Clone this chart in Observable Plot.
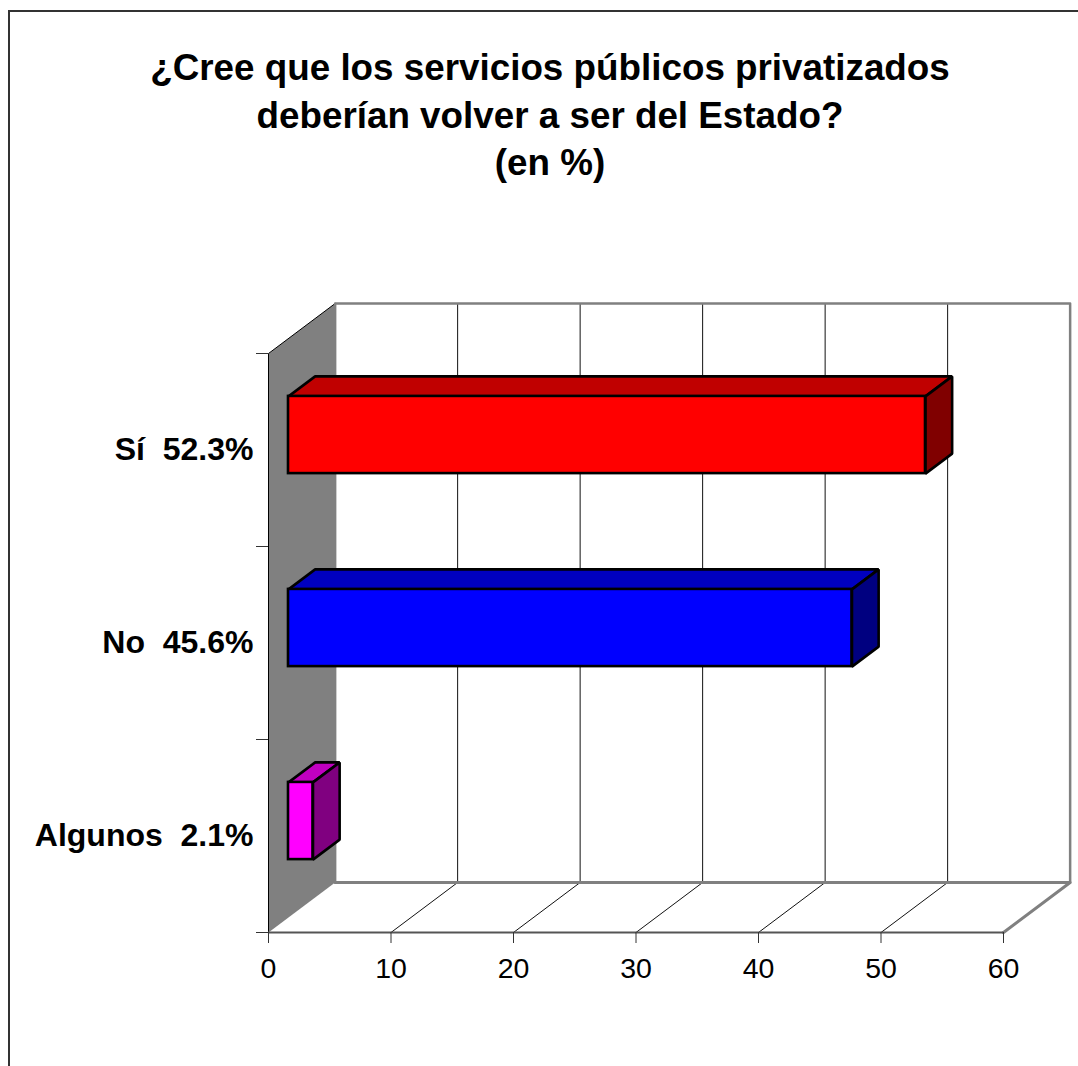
<!DOCTYPE html>
<html lang="es">
<head>
<meta charset="utf-8">
<script src="https://cdn.jsdelivr.net/npm/d3@7"></script>
<script src="https://cdn.jsdelivr.net/npm/@observablehq/plot@0.6"></script>
<style>
  html, body { margin: 0; padding: 0; background: #fff; }
  #page { position: relative; width: 1078px; height: 1066px; overflow: hidden; font-family: "Liberation Sans", Arial, sans-serif; }
  #frame { position: absolute; left: 8px; top: 10px; right: -4px; bottom: -4px; border: 2px solid #333; pointer-events: none; }
  #title { position: absolute; left: 0; top: 44px; width: 1100px; text-align: center; font-size: 36.8px; line-height: 47.5px; font-weight: bold; color: #000; margin: 0; }
  #chart { position: absolute; left: 0; top: 250px; }
  #chart svg { display: block; }
</style>
</head>
<body>
<div id="page">
  <div id="frame"></div>
  <h1 id="title"></h1>
  <div id="chart"></div>
</div>
<script>
const titleLines = ["¿Cree que los servicios públicos privatizados", "deberían volver a ser del Estado?", "(en %)"];
const categories = ["Algunos", "No", "Sí"];
const percentLabels = ["2.1%", "45.6%", "52.3%"];
const barLengths = [2, 46, 52];
const barColors = ["#ff00ff", "#0000ff", "#ff0000"];
const topColors = ["#c000c0", "#0000c0", "#c00000"];
const sideColors = ["#800080", "#000080", "#800000"];
const xTicks = [0, 10, 20, 30, 40, 50, 60];
const yBandEdges = [0, 1, 2, 3];
const yBandCenters = [0.5, 1.5, 2.5];

document.getElementById("title").innerHTML = titleLines.join("<br>");

// Oblique projection, in data units: a depth of 1 is the full depth of the box.
const depthX = 5.44, depthY = 0.259;
const P = (x, y, d) => ({x: x + d * depthX, y: y + d * depthY});
const barFront = 0.3, barBack = 0.7, barHalf = 0.2;

const polygon = (corners, extra) => corners.map(([x, y, d]) => ({...P(x, y, d), ...extra}));

const wallGrey = "#808080";
const sideWall = polygon([[0, 0, 0], [0, 3, 0], [0, 3, 1], [0, 0, 1]], {});
const sideWallEdge = polygon([[0, 0, 0], [0, 3, 0], [0, 3, 1]], {});
const backWall = polygon([[0, 0, 1], [0, 3, 1], [60, 3, 1], [60, 0, 1]], {});
const floorEdge = polygon([[0, 0, 1], [60, 0, 1], [60, 0, 0]], {});
const floorGrid = xTicks.slice(1, -1).flatMap(t => polygon([[t, 0, 0], [t, 0, 1], [t, 3, 1]], {t}));

const bars = categories.map((c, i) => ({
  i, c, len: barLengths[i], mid: yBandCenters[i],
  front: barColors[i], top: topColors[i], side: sideColors[i]
}));
const topFaces = bars.flatMap(b => polygon([
  [0, b.mid + barHalf, barFront], [b.len, b.mid + barHalf, barFront],
  [b.len, b.mid + barHalf, barBack], [0, b.mid + barHalf, barBack]
], {i: b.i, fill: b.top}));
const sideFaces = bars.flatMap(b => polygon([
  [b.len, b.mid - barHalf, barFront], [b.len, b.mid + barHalf, barFront],
  [b.len, b.mid + barHalf, barBack], [b.len, b.mid - barHalf, barBack]
], {i: b.i, fill: b.side}));

const face = (data) => Plot.line(data, {
  x: "x", y: "y", z: "i", fill: "fill", stroke: "#000", strokeWidth: 2.6,
  curve: "linear-closed", strokeLinejoin: "miter"
});

const plot = Plot.plot({
  width: 1078,
  height: 816,
  marginLeft: 268,
  marginRight: 75,
  marginTop: 103,
  marginBottom: 134,
  x: {domain: [0, 60]},
  y: {domain: [0, 3]},
  color: {type: "identity"},
  style: {fontFamily: "'Liberation Sans', Arial, sans-serif", background: "transparent", overflow: "visible"},
  marks: [
    Plot.line(sideWall, {x: "x", y: "y", fill: wallGrey, stroke: "none", curve: "linear-closed"}),
    Plot.line(sideWallEdge, {x: "x", y: "y", stroke: "#000", strokeWidth: 1}),
    Plot.line(floorGrid, {x: "x", y: "y", z: "t", stroke: "#111", strokeWidth: 1}),
    Plot.line(backWall, {x: "x", y: "y", stroke: wallGrey, strokeWidth: 2.5}),
    Plot.line(floorEdge, {x: "x", y: "y", stroke: wallGrey, strokeWidth: 3}),
    Plot.ruleY([0], {stroke: "#555", strokeWidth: 2}),
    Plot.axisX({anchor: "bottom", ticks: xTicks, tickSize: 11, tickPadding: 14, fontSize: 28.5, label: null, stroke: "#333", color: "#000"}),
    Plot.axisY({anchor: "left", ticks: yBandEdges, tickSize: 12, tickFormat: () => "", label: null, stroke: "#333"}),
    Plot.axisY({anchor: "left", ticks: yBandCenters, tickSize: 0, tickPadding: 15, fontSize: 32, fontWeight: "bold", label: null, color: "#000",
      tickFormat: v => `${categories[yBandCenters.indexOf(v)]}  ${percentLabels[yBandCenters.indexOf(v)]}`}),
    face(topFaces),
    face(sideFaces),
    Plot.rect(bars, {
      x1: b => P(0, b.mid, barFront).x, x2: b => P(b.len, b.mid, barFront).x,
      y1: b => P(0, b.mid - barHalf, barFront).y, y2: b => P(0, b.mid + barHalf, barFront).y,
      fill: "front", stroke: "#000", strokeWidth: 2.6
    })
  ]
});
document.getElementById("chart").appendChild(plot);
</script>
</body>
</html>
